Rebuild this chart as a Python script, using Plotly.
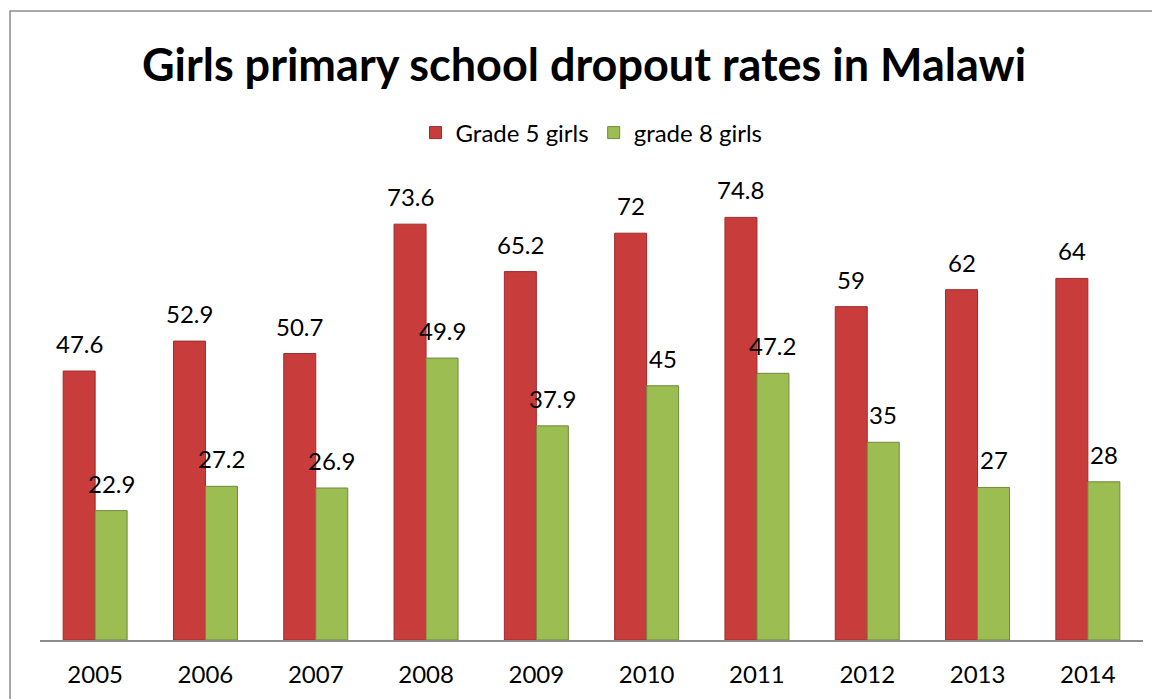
import plotly.graph_objects as go

years = ["2005", "2006", "2007", "2008", "2009", "2010", "2011", "2012", "2013", "2014"]
grade5 = [47.6, 52.9, 50.7, 73.6, 65.2, 72, 74.8, 59, 62, 64]
grade8 = [22.9, 27.2, 26.9, 49.9, 37.9, 45, 47.2, 35, 27, 28]
series_names = ["Grade 5 girls", "grade 8 girls"]

FONT = "Lato, Carlito, Calibri, 'Open Sans', sans-serif"
FS = 24

W, H = 1152, 691   # page has an 8px body margin
ML, MR, MT, MB = 32, 17, 180, 59
plot_w = W - ML - MR
plot_h = H - MT - MB
cat_w = plot_w / len(years)
BARGAP = 0.42
bar_px = cat_w * (1 - BARGAP) / 2

fig = go.Figure()
fig.add_trace(go.Bar(
    x=years, y=grade5, name=series_names[0],
    marker=dict(color="#C93C3C", line=dict(color="#9E2B2B", width=1)),
))
fig.add_trace(go.Bar(
    x=years, y=grade8, name=series_names[1],
    marker=dict(color="#9BBD52", line=dict(color="#71893F", width=1)),
))

# data labels above each bar (category axis: annotations use category index)
for vals, sign in ((grade5, -1), (grade8, 1)):
    for i, v in enumerate(vals):
        fig.add_annotation(x=i, y=v, text=f"{v:g}", showarrow=False,
                           xanchor="center", yanchor="bottom",
                           xshift=sign * bar_px / 2, yshift=11,
                           font=dict(size=FS, family=FONT, color="black"))

fig.update_layout(
    width=W, height=H,
    paper_bgcolor="white", plot_bgcolor="white",
    margin=dict(l=ML, r=MR, t=MT, b=MB),
    barmode="group", bargap=BARGAP, bargroupgap=0,
    font=dict(family=FONT, color="black", size=FS),
    title=dict(text="<b>Girls primary school dropout rates in Malawi</b>",
               x=0.5, xanchor="center", y=1 - 57 / H, yanchor="middle",
               font=dict(size=45, family=FONT, color="black")),
    legend=dict(orientation="h", x=0.5, xanchor="center", y=(plot_h + MT - 125) / plot_h,
                yanchor="middle", font=dict(size=FS, family=FONT), itemwidth=30,
                traceorder="normal"),
    showlegend=True,
)
fig.update_xaxes(type="category", range=[-0.5, len(years) - 0.5],
                 showline=True, linecolor="#8C8C8C", linewidth=2,
                 ticks="outside", ticklen=12, tickcolor="rgba(0,0,0,0)",
                 tickfont=dict(size=FS, family=FONT), showgrid=False)
fig.update_yaxes(range=[0, 80], visible=False, showgrid=False)

fig.add_shape(type="rect", xref="paper", yref="paper",
              x0=(2 - ML) / plot_w, x1=1.2, y0=-0.3, y1=(plot_h + MT - 3) / plot_h,
              line=dict(color="#8C8C8C", width=1.5), fillcolor="rgba(0,0,0,0)", layer="below")

fig.write_html("out.html")
